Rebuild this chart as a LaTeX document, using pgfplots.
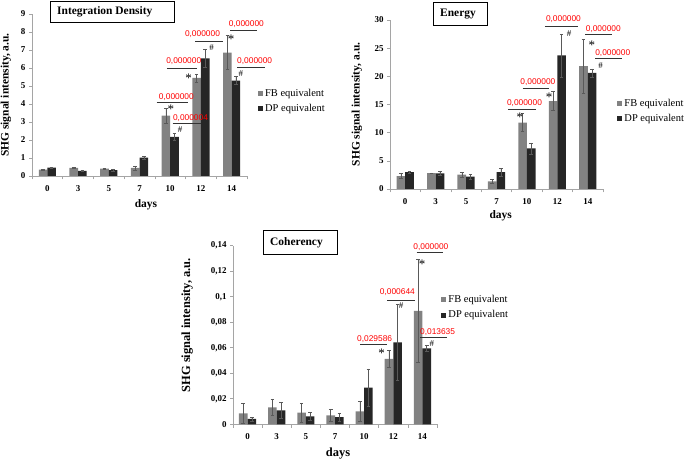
\documentclass[border=0pt]{standalone}
\usepackage{fontspec}
\setmainfont{Liberation Serif}
\newfontfamily\pvfont{Liberation Sans}
\usepackage{pgfplots}
\pgfplotsset{compat=1.18}
\definecolor{fbgray}{RGB}{130,130,130}
\definecolor{dpdark}{RGB}{38,38,38}
\definecolor{axgray}{RGB}{165,165,165}

\pgfplotsset{
  shg/.style={
    scale only axis, clip=false,
    ybar=0pt, bar width=8.6bp,
    xmin=-0.5, xmax=6.5, ymin=0,
    xtick={0,...,6}, xticklabels={0,3,5,7,10,12,14},
    minor xtick={-0.5,0.5,...,6.5},
    axis lines=left,
    axis line style={-, draw=axgray, line width=0.6bp},
    tick align=outside,
    major tick length=3bp, minor tick length=3.5bp,
    major x tick style={draw=none},
    minor x tick style={draw=axgray, line width=0.6bp},
    y tick style={draw=axgray, line width=0.6bp},
    tick label style={font=\fontsize{9}{10}\selectfont\bfseries},
    xticklabel style={yshift=-3bp},
    /pgf/number format/assume math mode=true,
    scaled y ticks=false,
    xlabel={days}, ylabel={SHG signal intensity, a.u.},
    label style={font=\fontsize{11.5}{12}\selectfont\bfseries},
    legend cell align=left,
    legend style={draw=none, fill=none, font=\fontsize{10.5}{12}\selectfont,
      row sep=2.5bp, inner sep=0pt},
  },
  sq/.style={legend image code/.code={\fill[##1] (0bp,-2.6bp) rectangle (5.2bp,2.6bp);}},
  eb/.style={error bars/y dir=both, error bars/y explicit,
    error bars/error bar style={line width=0.5bp, draw=black!65},
    error bars/error mark options={rotate=90, mark size=1.8bp, line width=0.5bp, draw=black!65}},
  fb/.style={fill=fbgray, draw=none, sq, eb},
  dp/.style={fill=dpdark, draw=none, sq, eb},
}
\tikzset{
  pv/.style={font=\pvfont\fontsize{8.4}{9}\selectfont, text=red, inner sep=0pt},
  pl/.style={line width=0.8bp, draw=black!80},
  st/.style={font=\fontsize{13}{13}\selectfont, inner sep=0pt},
  hs/.style={font=\fontsize{9}{9}\selectfont, inner sep=0pt},
  ttl/.style={anchor=west, font=\fontsize{11.5}{12}\selectfont\bfseries, inner sep=0pt},
}

\begin{document}
\begin{tikzpicture}[x=1bp,y=1bp]
\useasboundingbox (0,0) rectangle (685,461);

% Integration Density
\begin{axis}[shg, at={(32bp,285bp)}, anchor=south west, width=215bp, height=162bp,
  ymax=9, ytick={0,1,...,9},
  xlabel style={at={(axis description cs:0.53,-0.179)}, anchor=center},
  ylabel style={at={(axis description cs:-0.121,0.5)}, anchor=center},
  legend style={at={(axis description cs:1.05,0.463)}, anchor=west}]
\addplot[fb] coordinates {(0,0.35) +- (0,0.03) (1,0.45) +- (0,0.04) (2,0.41) +- (0,0.02)
  (3,0.45) +- (0,0.11) (4,3.35) +- (0,0.44) (5,5.45) +- (0,0.22) (6,6.86) +- (0,0.95)};
\addplot[dp] coordinates {(0,0.46) +- (0,0.03) (1,0.28) +- (0,0.04) (2,0.33) +- (0,0.06)
  (3,1.02) +- (0,0.07) (4,2.17) +- (0,0.19) (5,6.54) +- (0,0.50) (6,5.30) +- (0,0.22)};
\legend{FB equivalent, DP equivalent}
\node[pv] at (axis cs:4.20,4.37) {0,000000};
\draw[pl] (axis cs:3.56,4.07) -- (axis cs:4.59,4.07);
\node[pv] at (axis cs:4.66,3.22) {0,000004};
\draw[pl] (axis cs:4.08,2.94) -- (axis cs:4.99,2.94);
\node[pv] at (axis cs:4.44,6.39) {0,000000};
\draw[pl] (axis cs:3.89,5.96) -- (axis cs:4.86,5.96);
\node[pv] at (axis cs:5.05,7.87) {0,000000};
\draw[pl] (axis cs:4.81,7.50) -- (axis cs:5.71,7.50);
\node[pv] at (axis cs:6.48,8.44) {0,000000};
\draw[pl] (axis cs:5.95,8.11) -- (axis cs:6.84,8.11);
\node[pv] at (axis cs:6.75,6.39) {0,000000};
\draw[pl] (axis cs:6.19,6.06) -- (axis cs:7.09,6.06);
\node[st] at (axis cs:4.02,3.72) {*};
\node[hs] at (axis cs:4.32,2.56) {\#};
\node[st] at (axis cs:4.60,5.44) {*};
\node[hs] at (axis cs:5.35,7.13) {\#};
\node[st] at (axis cs:5.98,7.57) {*};
\node[hs] at (axis cs:6.30,5.70) {\#};
\end{axis}

% Energy
\begin{axis}[shg, at={(390bp,272bp)}, anchor=south west, width=213bp, height=169bp,
  ymax=30, ytick={0,5,...,30},
  xlabel style={at={(axis description cs:0.52,-0.16)}, anchor=center},
  ylabel style={at={(axis description cs:-0.155,0.5)}, anchor=center},
  legend style={at={(axis description cs:1.066,0.463)}, anchor=west}]
\addplot[fb] coordinates {(0,2.3) +- (0,0.45) (1,2.8) +- (0,0.08) (2,2.55) +- (0,0.45)
  (3,1.35) +- (0,0.3) (4,11.8) +- (0,1.6) (5,15.6) +- (0,1.7) (6,21.8) +- (0,4.8)};
\addplot[dp] coordinates {(0,3.0) +- (0,0.12) (1,2.75) +- (0,0.35) (2,2.2) +- (0,0.45)
  (3,3.0) +- (0,0.7) (4,7.2) +- (0,1.0) (5,23.7) +- (0,3.8) (6,20.6) +- (0,0.7)};
\legend{FB equivalent, DP equivalent}
\node[pv] at (axis cs:3.92,15.32) {0,000000};
\draw[pl] (axis cs:3.37,14.2) -- (axis cs:4.29,14.2);
\node[pv] at (axis cs:4.36,18.94) {0,000000};
\draw[pl] (axis cs:3.86,17.81) -- (axis cs:4.74,17.81);
\node[pv] at (axis cs:5.20,30.18) {0,000000};
\draw[pl] (axis cs:4.59,28.94) -- (axis cs:5.69,28.94);
\node[pv] at (axis cs:6.51,28.35) {0,000000};
\draw[pl] (axis cs:5.91,27.52) -- (axis cs:6.79,27.52);
\node[pv] at (axis cs:6.82,24.2) {0,000000};
\draw[pl] (axis cs:6.24,23.14) -- (axis cs:7.11,23.14);
\node[st] at (axis cs:3.77,12.8) {*};
\node[st] at (axis cs:4.73,16.3) {*};
\node[hs] at (axis cs:5.39,27.6) {\#};
\node[st] at (axis cs:6.13,25.5) {*};
\node[hs] at (axis cs:6.42,21.9) {\#};
\end{axis}

% Coherency
\begin{axis}[shg, at={(233bp,36.7bp)}, anchor=south west, width=204bp, height=178.6bp,
  ymax=0.14, ytick={0,0.02,0.04,0.06,0.08,0.1,0.12,0.14},
  yticklabels={0,{0,02},{0,04},{0,06},{0,08},{0,1},{0,12},{0,14}},
  label style={font=\fontsize{12.5}{13}\selectfont\bfseries},
  xlabel style={at={(axis description cs:0.515,-0.166)}, anchor=center},
  ylabel style={at={(axis description cs:-0.225,0.555)}, anchor=center},
  legend style={at={(axis description cs:1.02,0.654)}, anchor=west}]
\addplot[fb] coordinates {(0,0.0086) +- (0,0.0078) (1,0.0133) +- (0,0.0063) (2,0.0091) +- (0,0.0074)
  (3,0.0070) +- (0,0.0050) (4,0.0102) +- (0,0.0081) (5,0.0512) +- (0,0.0068) (6,0.0890) +- (0,0.0400)};
\addplot[dp] coordinates {(0,0.0042) +- (0,0.0015) (1,0.0110) +- (0,0.0060) (2,0.0063) +- (0,0.0031)
  (3,0.0057) +- (0,0.0032) (4,0.0287) +- (0,0.0147) (5,0.0642) +- (0,0.0298) (6,0.0595) +- (0,0.0021)};
\legend{FB equivalent, DP equivalent}
\node[pv] at (axis cs:4.36,0.0669) {0,029586};
\draw[pl] (axis cs:3.86,0.0627) -- (axis cs:4.80,0.0627);
\node[pv] at (axis cs:5.14,0.1034) {0,000644};
\draw[pl] (axis cs:4.80,0.0972) -- (axis cs:5.75,0.0972);
\node[pv] at (axis cs:6.29,0.1392) {0,000000};
\draw[pl] (axis cs:5.80,0.1345) -- (axis cs:6.72,0.1345);
\node[pv] at (axis cs:6.52,0.0726) {0,013635};
\draw[pl] (axis cs:5.92,0.0684) -- (axis cs:6.83,0.0684);
\node[st] at (axis cs:4.60,0.0555) {*};
\node[hs] at (axis cs:5.27,0.093) {\#};
\node[st] at (axis cs:5.99,0.1253) {*};
\node[hs] at (axis cs:6.32,0.0635) {\#};
\end{axis}

% panel titles
\draw[line width=0.8bp] (50,439) rectangle (174,460);
\node[ttl] at (57,449.5) {Integration Density};
\draw[line width=0.8bp] (433,436) rectangle (487,459);
\node[ttl] at (440,446.5) {Energy};
\draw[line width=0.8bp] (263,207) rectangle (337,231);
\node[ttl] at (270,218) {Coherency};
\end{tikzpicture}
\end{document}
